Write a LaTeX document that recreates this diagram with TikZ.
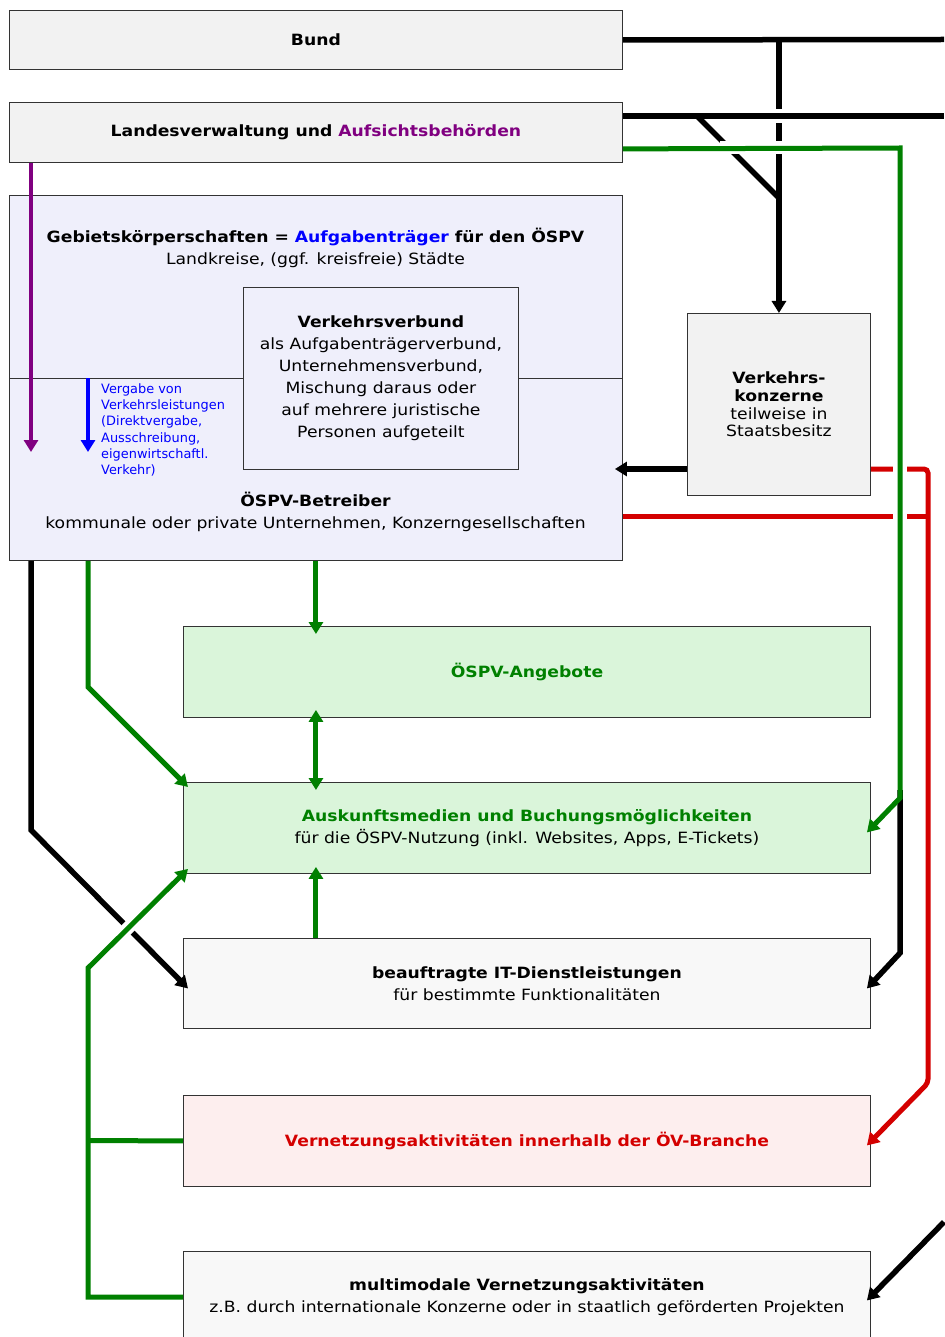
\documentclass[tikz,border=0pt]{standalone}
\usepackage{fontspec}
\setmainfont[FakeStretch=1.11]{DejaVu Sans}
\newfontfamily\plainfont{DejaVu Sans}
\usetikzlibrary{arrows.meta,calc}
\definecolor{greyf}{HTML}{F2F2F2}
\definecolor{lavf}{HTML}{EFEFFB}
\definecolor{grnf}{HTML}{DAF5DA}
\definecolor{itf}{HTML}{F8F8F8}
\definecolor{pinkf}{HTML}{FDEEEE}
\definecolor{lgreen}{HTML}{008000}
\definecolor{lred}{HTML}{D40000}
\definecolor{lpurple}{HTML}{800080}
\definecolor{lblue}{HTML}{0000FF}
\begin{document}
\begin{tikzpicture}[x=1pt,y=-1pt,
  box/.style={draw=black!80, line width=0.9pt, inner sep=0pt, anchor=north west, align=center,
    font=\fontsize{15.5}{22}\selectfont},
  txt/.style={inner sep=0pt, align=center, font=\fontsize{15.5}{22}\selectfont},
  tip/.style={-{Triangle[length=12pt,width=14pt]}},
  dtip/.style={{Triangle[length=12pt,width=14pt]}-{Triangle[length=12pt,width=14pt]}},
  blk/.style={draw=black, line width=5.5pt},
  grn/.style={draw=lgreen, line width=5pt},
  red/.style={draw=lred, line width=5pt},
  gap/.style={draw=white, line width=14pt},
]
\useasboundingbox (0,0) rectangle (944,1337);
\fill[white] (0,0) rectangle (944,1337);

% boxes
\node[box, fill=greyf, minimum width=613pt, minimum height=59pt] (bund) at (9,10) {\bfseries Bund};
\node[box, fill=greyf, minimum width=613pt, minimum height=60pt] (land) at (9,102)
  {\bfseries Landesverwaltung und \textcolor{lpurple}{Aufsichtsbehörden}};
\node[box, fill=lavf, minimum width=613pt, minimum height=365pt] (geb) at (9,195) {};
\node[box, fill=lavf, minimum width=275pt, minimum height=182pt] (vv) at (243,287)
  {\textbf{Verkehrsverbund}\\als Aufgabenträgerverbund,\\Unternehmensverbund,\\Mischung daraus oder\\auf mehrere juristische\\Personen aufgeteilt};
\draw[draw=black!80, line width=0.9pt] (geb.west |- 0,378) -- (vv.west |- 0,378);
\draw[draw=black!80, line width=0.9pt] (vv.east |- 0,378) -- (geb.east |- 0,378);
\node[txt] (gebt) at (315.5,248)
  {\textbf{Gebietskörperschaften = \textcolor{lblue}{Aufgabenträger} für den ÖSPV}\\Landkreise, (ggf. kreisfreie) Städte};
\node[txt] (betr) at (315.5,511.5)
  {\textbf{ÖSPV-Betreiber}\\kommunale oder private Unternehmen, Konzerngesellschaften};
\node[inner sep=0pt, anchor=north west, align=left, text=lblue, font=\plainfont\fontsize{12.9}{16.2}\selectfont] (verg) at (101,383.5)
  {Vergabe von\\Verkehrsleistungen\\(Direktvergabe,\\Ausschreibung,\\eigenwirtschaftl.\\Verkehr)};
\node[box, fill=greyf, minimum width=183pt, minimum height=182pt, font=\fontsize{15.5}{17.7}\selectfont] (vk) at (687,313)
  {\textbf{Verkehrs-}\\\textbf{konzerne}\\teilweise in\\Staatsbesitz};
\node[box, fill=grnf, minimum width=687pt, minimum height=91pt] (ang) at (183,626)
  {\textcolor{lgreen}{\bfseries ÖSPV-Angebote}};
\node[box, fill=grnf, minimum width=687pt, minimum height=91pt] (ausk) at (183,782)
  {\textcolor{lgreen}{\bfseries Auskunftsmedien und Buchungsmöglichkeiten}\\für die ÖSPV-Nutzung (inkl. Websites, Apps, E-Tickets)};
\node[box, fill=itf, minimum width=687pt, minimum height=90pt] (it) at (183,938)
  {\textbf{beauftragte IT-Dienstleistungen}\\für bestimmte Funktionalitäten};
\node[box, fill=pinkf, minimum width=687pt, minimum height=91pt] (vern) at (183,1095)
  {\textcolor{lred}{\bfseries Vernetzungsaktivitäten innerhalb der ÖV-Branche}};
\node[box, fill=itf, minimum width=687pt, minimum height=91pt] (multi) at (183,1251)
  {\textbf{multimodale Vernetzungsaktivitäten}\\z.B. durch internationale Konzerne oder in staatlich geförderten Projekten};

% coordinates
\coordinate (bR) at (944,39.5);
\coordinate (lR) at (944,116);
\coordinate (lL) at ($(land.north east)+(0,14)$);
\coordinate (dg) at (697,116);
\coordinate (gA) at ($(land.south east)+(0,-14)$);

% top right black lines
\draw[blk] (bund.east) -- (bR);
\draw[blk, tip] (bund.east -| vk.north) -- (vk.north);
\draw[gap] (771,116) -- (786,116);
\draw[blk] (lL) -- (lR);
\draw[blk] (dg) -- (778.5,197.5);

% black right down to IT
\draw[blk, tip] (900,790) -- (900,953) -- ($(it.east)+(-4,5)$);

% red lines
\draw[red, rounded corners=4pt, tip] (vk.east |- 0,469) -- (928,469) -- (928,1083) -- ($(vern.east)+(-4,4.5)$);
\draw[red] (geb.east |- 0,516) -- (928,516);

% gaps for green
\draw[gap, line width=13pt] (771,148) -- (786,148);
\draw[gap, line width=13pt] (720,148) -- (740,148);
\draw[gap] (900,460) -- (900,525);
\draw[grn, tip] (gA) -- (900,148) -- (900,798) -- ($(ausk.east)+(-4,4.5)$);

% black from Verkehrskonzerne to Betreiber
\draw[blk, tip] (vk.west |- 0,469) -- ($(geb.east |- 0,469)+(-8,0)$);

% bottom right black
\draw[blk, tip] (944,1222) -- ($(multi.east)+(-4,3.5)$);

% purple and blue
\draw[draw=lpurple, line width=4.5pt, tip] ($(land.south west)+(22,0)$) -- (31,452);
\draw[draw=lblue, line width=4.5pt, tip] (88,378) -- (88,452);

% left black
\draw[blk, tip] ($(geb.south west)+(22,0)$) -- (31,830) -- ($(it.west)+(5,5)$);
% left green to Auskunft
\draw[grn, tip] ($(geb.south west)+(79,0)$) -- (88,687) -- ($(ausk.north west)+(5,5)$);
% center green
\draw[grn, tip] (geb.south) -- ($(ang.north -| geb.south)+(0,8)$);
\draw[grn, dtip] ($(ang.south -| geb.south)+(0,-8)$) -- ($(ausk.north -| geb.south)+(0,8)$);
\draw[grn, tip] (it.north -| geb.south) -- ($(ausk.south -| geb.south)+(0,-7)$);
% bottom left green
\draw[gap, line width=13pt] (119,937) -- (138,918);
\draw[grn, tip] (multi.west |- 0,1297) -- (88,1297) -- (88,968) -- ($(ausk.south west)+(5,-5)$);
\draw[grn] (vern.west) -- (88,1140.5);
\end{tikzpicture}
\end{document}
